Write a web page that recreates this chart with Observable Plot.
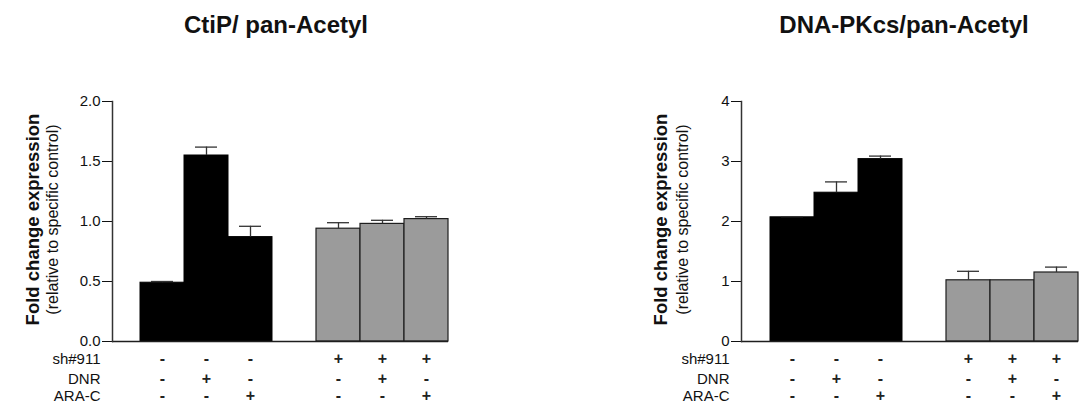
<!DOCTYPE html>
<html>
<head>
<meta charset="utf-8">
<script src="https://cdn.jsdelivr.net/npm/d3@7"></script>
<script src="https://cdn.jsdelivr.net/npm/@observablehq/plot@0.6"></script>
<style>
  body { margin: 0; background: #fff; font-family: "Liberation Sans", Arial, sans-serif; }
  #wrap { display: flex; width: 1090px; height: 414px; }
  .panel { position: relative; width: 545px; height: 414px; }
  .title { position: absolute; top: 13px; width: 400px; text-align: center;
           font-weight: bold; font-size: 24px; line-height: 24px; color: #111; }
  .panel svg { position: absolute; top: 50px; left: 0; overflow: visible; }
</style>
</head>
<body>
<div id="wrap"></div>
<script>
// Treatment conditions (left group: control shRNA, right group: sh#911)
const conditions = ["ctrl", "DNR", "ARA-C", "sh", "sh+DNR", "sh+ARA-C"];
const slots = ["ctrl", "DNR", "ARA-C", "spacer", "sh", "sh+DNR", "sh+ARA-C"];
const sh911 = ["-", "-", "-", "+", "+", "+"];
const dnr   = ["-", "+", "-", "-", "+", "-"];
const araC  = ["-", "-", "+", "-", "-", "+"];
const rowLabels = ["sh#911", "DNR", "ARA-C"];

// CtiP / pan-Acetyl: mean fold change and SEM
const ctipMean = [0.49, 1.55, 0.87, 0.94, 0.98, 1.02];
const ctipSem  = [0.01, 0.07, 0.09, 0.05, 0.03, 0.02];
const ctipTicks = [0, 0.5, 1.0, 1.5, 2.0];

// DNA-PKcs / pan-Acetyl: mean fold change and SEM
const pkMean = [2.07, 2.48, 3.04, 1.02, 1.02, 1.15];
const pkSem  = [0.01, 0.18, 0.05, 0.15, 0.00, 0.09];
const pkTicks = [0, 1, 2, 3, 4];

const yTitle = "Fold change expression";
const ySubtitle = "(relative to specific control)";

function panel({title, titleCenter, mean, sem, ticks, fmt, marginLeft, marginRight, titleDx, subDx}) {
  const rows = conditions.map((c, i) => ({
    cond: c, mean: mean[i], sem: sem[i], upper: mean[i] + sem[i],
    knock: sh911[i] === "+", signs: [sh911[i], dnr[i], araC[i]]
  }));
  const withErr = rows.filter(d => d.sem > 0);
  const rowDy = [22, 42, 59];
  const ink = "#1e1e1e";

  const marks = [
    Plot.barY(rows.filter(d => !d.knock), {x: "cond", y: "mean", fill: "#000", stroke: "#000"}),
    Plot.barY(rows.filter(d => d.knock), {x: "cond", y: "mean", fill: "#9b9b9b", stroke: ink, strokeWidth: 1.2}),
    Plot.ruleX(withErr, {x: "cond", y1: "mean", y2: "upper", stroke: "#333", strokeWidth: 1.3}),
    Plot.tickY(withErr, {x: "cond", y: "upper", insetLeft: 11, insetRight: 11, stroke: "#333", strokeWidth: 1.3}),
    Plot.ruleY([0], {stroke: ink, strokeWidth: 1.5}),
    Plot.frame({anchor: "left", stroke: "#333", strokeWidth: 1.5}),
    Plot.text([yTitle], {text: d => d, frameAnchor: "left", textAnchor: "middle", rotate: -90, dx: titleDx, dy: -2,
      fontWeight: "bold", fontSize: 18.5, fill: "#111"}),
    Plot.text([ySubtitle], {text: d => d, frameAnchor: "left", textAnchor: "middle", rotate: -90, dx: subDx, dy: -2,
      fontSize: 16, fill: "#111"})
  ];
  rowLabels.forEach((label, r) => {
    marks.push(Plot.text([label], {text: d => d, frameAnchor: "bottom-left", dx: -12, dy: rowDy[r],
      textAnchor: "end", fontSize: 15, fill: "#111"}));
    marks.push(Plot.text(rows, {x: "cond", text: d => d.signs[r], frameAnchor: "bottom", dy: rowDy[r],
      fontSize: 16, fontWeight: "bold", fill: "#222"}));
  });

  const svg = Plot.plot({
    width: 545, height: 364,
    marginTop: 51, marginBottom: 73, marginLeft, marginRight,
    style: {fontFamily: "'Liberation Sans', Arial, sans-serif", fontSize: "15px", color: "#111", background: "#fff", overflow: "visible"},
    x: {domain: slots, paddingInner: 0, paddingOuter: 0.25, align: 1, axis: null},
    y: {domain: [0, ticks[ticks.length - 1]], ticks, tickFormat: fmt, tickSize: 10, tickPadding: 2, label: null},
    marks
  });

  const div = document.createElement("div");
  div.className = "panel";
  const t = document.createElement("div");
  t.className = "title";
  t.textContent = title;
  t.style.left = (titleCenter - 200) + "px";
  div.appendChild(t);
  div.appendChild(svg);
  document.getElementById("wrap").appendChild(div);
}

panel({title: "CtiP/ pan-Acetyl", titleCenter: 276, mean: ctipMean, sem: ctipSem, ticks: ctipTicks,
  fmt: ".1f", marginLeft: 112, marginRight: 97, titleDx: -79, subDx: -60});
panel({title: "DNA-PKcs/pan-Acetyl", titleCenter: 359, mean: pkMean, sem: pkSem, ticks: pkTicks,
  fmt: "d", marginLeft: 196, marginRight: 12, titleDx: -80, subDx: -59});
</script>
</body>
</html>
